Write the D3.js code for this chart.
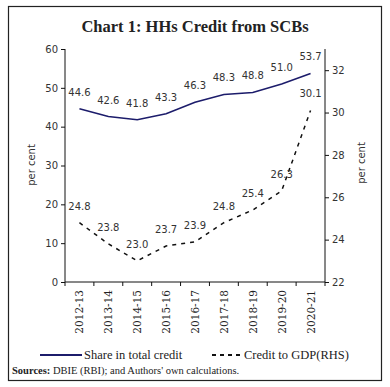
<!DOCTYPE html>
<html><head><meta charset="utf-8">
<script src="https://cdn.jsdelivr.net/npm/d3@7"></script>
<style>body{margin:0;background:#fff}</style>
</head><body>
<svg id="chart" width="390" height="387"></svg>
<script>
const categories = ["2012-13","2013-14","2014-15","2015-16","2016-17","2017-18","2018-19","2019-20","2020-21"];
const shareInTotalCredit = [44.6,42.6,41.8,43.3,46.3,48.3,48.8,51.0,53.7];
const creditToGDP = [24.8,23.8,23.0,23.7,23.9,24.8,25.4,26.3,30.1];
const leftTicks = [0,10,20,30,40,50,60];
const rightTicks = [22,24,26,28,30,32];

const svg = d3.select("#chart");
const L = 65, R = 325, T = 49, B = 282;
const sansF = "'DejaVu Sans', Verdana, sans-serif";
const serifF = "'Liberation Serif', 'DejaVu Serif', serif";

// frame
svg.append("rect").attr("x",8.5).attr("y",6.5).attr("width",373).attr("height",374)
  .attr("fill","none").attr("stroke","#222").attr("stroke-width",1.2);

svg.append("text").attr("x",195).attr("y",32).attr("text-anchor","middle")
  .attr("font-family",serifF).attr("font-weight","bold").attr("font-size",16.5).attr("fill","#222")
  .text("Chart 1: HHs Credit from SCBs");

const x = d3.scalePoint().domain(categories).range([L,R]).padding(0.5);
const yL = d3.scaleLinear().domain([0,60]).range([B,T]);
const yR = d3.scaleLinear().domain([22,33]).range([B,T]);

// axes
const gl = svg.append("g").attr("transform",`translate(${L},0)`)
  .call(d3.axisLeft(yL).tickValues(leftTicks).tickSize(4).tickSizeOuter(0));
const gr = svg.append("g").attr("transform",`translate(${R},0)`)
  .call(d3.axisRight(yR).tickValues(rightTicks).tickSize(4).tickSizeOuter(0));
[gl,gr].forEach(g=>{
  g.selectAll("text").attr("font-family",sansF).attr("font-size",10).attr("fill","#333");
  g.selectAll("line,path").attr("stroke","#111");
});
gl.select(".domain").attr("d",`M0,${T}V${B}`);
gr.select(".domain").attr("d",`M0,${T}V${B}`);

// x axis with ticks between categories
const bandW = (R-L)/categories.length;
const gx = svg.append("g").attr("transform",`translate(0,${B})`);
gx.append("line").attr("x1",L).attr("x2",R).attr("stroke","#111");
gx.selectAll("line.tk").data(d3.range(categories.length+1)).join("line").attr("class","tk")
  .attr("x1",i=>L+i*bandW).attr("x2",i=>L+i*bandW).attr("y1",0).attr("y2",4).attr("stroke","#111");
gx.selectAll("text").data(categories).join("text")
  .attr("transform",d=>`translate(${x(d)+4},8) rotate(-90)`)
  .attr("text-anchor","end").attr("font-family","'DejaVu Serif', serif").attr("font-size",10.5).attr("fill","#222")
  .text(d=>d);

// axis titles
svg.append("text").attr("transform","translate(35,165) rotate(-90)").attr("text-anchor","middle")
  .attr("font-family",sansF).attr("font-size",10).attr("fill","#333").text("per cent");
svg.append("text").attr("transform","translate(365,163) rotate(-90)").attr("text-anchor","middle")
  .attr("font-family",sansF).attr("font-size",10).attr("fill","#333").text("per cent");

// lines
const navy = "#1c1c6b";
svg.append("path").datum(shareInTotalCredit)
  .attr("d",d3.line().x((d,i)=>x(categories[i])).y(d=>yL(d)))
  .attr("fill","none").attr("stroke",navy).attr("stroke-width",1.6);
svg.append("path").datum(creditToGDP)
  .attr("d",d3.line().x((d,i)=>x(categories[i])).y(d=>yR(d)))
  .attr("fill","none").attr("stroke","#111").attr("stroke-width",1.5).attr("stroke-dasharray","4,5");

// data labels
svg.append("g").selectAll("text").data(shareInTotalCredit).join("text")
  .attr("x",(d,i)=>x(categories[i])).attr("y",d=>yL(d)-13)
  .attr("text-anchor","middle").attr("font-family",sansF).attr("font-size",10).attr("fill","#333")
  .text(d=>d.toFixed(1));
svg.append("g").selectAll("text").data(creditToGDP).join("text")
  .attr("x",(d,i)=>x(categories[i])).attr("y",d=>yR(d)-13)
  .attr("text-anchor","middle").attr("font-family",sansF).attr("font-size",10).attr("fill","#333")
  .text(d=>d.toFixed(1));

// legend
const lg = svg.append("g").attr("font-family",serifF).attr("font-size",12.5).attr("fill","#222");
lg.append("line").attr("x1",40).attr("x2",82).attr("y1",355).attr("y2",355).attr("stroke",navy).attr("stroke-width",1.8);
lg.append("text").attr("x",84).attr("y",359).text("Share in total credit");
lg.append("line").attr("x1",212).attr("x2",241).attr("y1",355).attr("y2",355).attr("stroke","#111").attr("stroke-width",1.8).attr("stroke-dasharray","4,4");
lg.append("text").attr("x",244).attr("y",359).text("Credit to GDP(RHS)");

const src = svg.append("text").attr("x",12).attr("y",374).attr("font-family",serifF).attr("font-size",10.5).attr("fill","#222");
src.append("tspan").attr("font-weight","bold").text("Sources:");
src.append("tspan").text(" DBIE (RBI); and Authors' own calculations.");
</script>
</body></html>
